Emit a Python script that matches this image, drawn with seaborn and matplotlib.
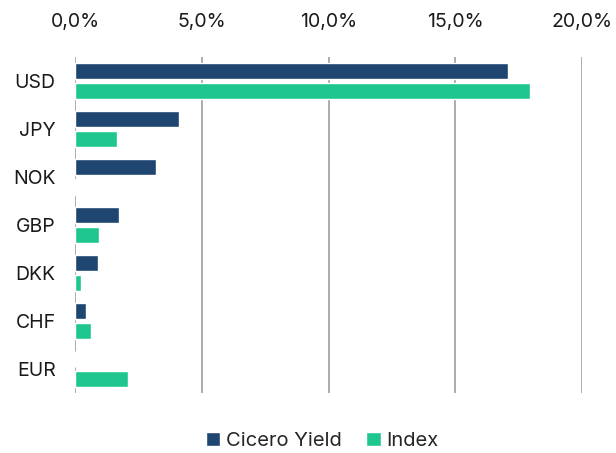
import pandas as pd
import numpy as np
import seaborn as sns
import matplotlib.pyplot as plt
from matplotlib.ticker import FuncFormatter

currencies = ['USD', 'JPY', 'NOK', 'GBP', 'DKK', 'CHF', 'EUR']
cicero_yield = [17.1, 4.1, 3.2, 1.73, 0.89, 0.44, 0.0]
index_weight = [17.95, 1.67, 0.04, 0.94, 0.25, 0.62, 2.08]
series = ['Cicero Yield', 'Index']
colors = ['#1F4571', '#1FC690']

# Long-form tabell for seaborn
df = pd.DataFrame({
    'Currency': currencies * 2,
    'Value': cicero_yield + index_weight,
    'Series': [series[0]] * len(currencies) + [series[1]] * len(currencies)
})

sns.set_style('white')
plt.rcParams['font.family'] = ['Inter', 'DejaVu Sans']

fig = plt.figure(figsize=(6.16, 4.53), dpi=100)
ax = fig.add_axes([0.1218, 0.1325, 0.823, 0.7417])

sns.barplot(data=df, y='Currency', x='Value', hue='Series', order=currencies,
            hue_order=series, palette=colors, orient='h', width=0.84, gap=0.2,
            saturation=1, ax=ax, legend=True)

ax.set_xlim(0, 20)
ax.set_ylim(6.5, -0.5)
ax.set_xticks([0, 5, 10, 15, 20])
ax.xaxis.tick_top()
ax.xaxis.set_major_formatter(FuncFormatter(lambda v, p: f"{v:.1f}%".replace('.', ',')))
ax.grid(axis='x', color='#a6a6a6', linewidth=1.3)
ax.set_axisbelow(True)
for s in ax.spines.values():
    s.set_visible(False)
ax.tick_params(axis='x', length=0, pad=19, labelsize=14, colors='#1a1a1a')
ax.tick_params(axis='y', length=0, pad=14, labelsize=14, colors='#1a1a1a')
ax.set_xlabel('')
ax.set_ylabel('')

handles, labels = ax.get_legend_handles_labels()
ax.legend_.remove()
fig.legend(handles, labels, loc='center', bbox_to_anchor=(0.523, 0.027), ncol=2,
           frameon=False, fontsize=14.5, handlelength=0.72, handleheight=0.72,
           handletextpad=0.3, columnspacing=1.2)

fig.savefig('out.png', dpi=100)
